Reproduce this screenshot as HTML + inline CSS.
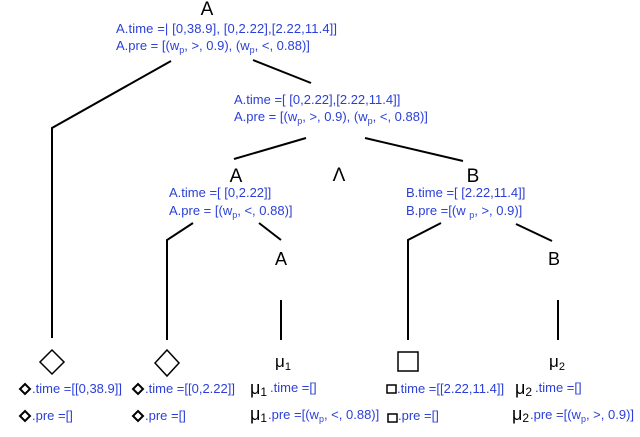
<!DOCTYPE html>
<html><head><meta charset="utf-8"><style>
html,body{margin:0;padding:0;background:#fff;}
svg{display:block;}
.b{fill:#2b3fd8;font-family:"Liberation Sans",sans-serif;font-size:13px;}
.k{fill:#000;font-family:"Liberation Sans",sans-serif;}
line,polyline{stroke:#000;stroke-width:2;fill:none;}
</style></head><body>
<svg width="640" height="437" viewBox="0 0 640 437" xmlns="http://www.w3.org/2000/svg">
<text class="k" x="207" y="15" font-size="19" text-anchor="middle">A</text>
<text class="b" x="116" y="33" textLength="221">A.time =| [0,38.9], [0,2.22],[2.22,11.4]]</text>
<text class="b" x="116" y="50">A.pre = [(w<tspan font-size="9" dy="3">p</tspan><tspan dy="-3">, &gt;, 0.9), (w</tspan><tspan font-size="9" dy="3">p</tspan><tspan dy="-3">, &lt;, 0.88)]</tspan></text>
<polyline points="171,61 52,128 52,338"/>
<line x1="253" y1="60" x2="311" y2="83"/>
<text class="b" x="234" y="104">A.time =[ [0,2.22],[2.22,11.4]]</text>
<text class="b" x="234" y="121">A.pre = [(w<tspan font-size="9" dy="3">p</tspan><tspan dy="-3">, &gt;, 0.9), (w</tspan><tspan font-size="9" dy="3">p</tspan><tspan dy="-3">, &lt;, 0.88)]</tspan></text>
<line x1="306" y1="138" x2="234" y2="159"/>
<line x1="365" y1="138" x2="463" y2="161"/>
<text class="k" x="236" y="182" font-size="19" text-anchor="middle">A</text>
<text class="k" x="339" y="181" font-size="19" text-anchor="middle">Λ</text>
<text class="k" x="473" y="182" font-size="19" text-anchor="middle">B</text>
<text class="b" x="169" y="197">A.time =[ [0,2.22]]</text>
<text class="b" x="169" y="215">A.pre = [(w<tspan font-size="9" dy="3">p</tspan><tspan dy="-3">, &lt;, 0.88)]</tspan></text>
<text class="b" x="406" y="197">B.time =[ [2.22,11.4]]</text>
<text class="b" x="406" y="215">B.pre =[(w <tspan font-size="9" dy="3">p</tspan><tspan dy="-3">, &gt;, 0.9)]</tspan></text>
<polyline points="193,223 167,240 167,340"/>
<line x1="259" y1="223" x2="281" y2="240"/>
<text class="k" x="281" y="265" font-size="18" text-anchor="middle">A</text>
<line x1="281" y1="300" x2="281" y2="340"/>
<polyline points="441,223 408,240 408,340"/>
<line x1="516" y1="224" x2="552" y2="241"/>
<text class="k" x="554" y="265" font-size="18" text-anchor="middle">B</text>
<line x1="558" y1="300" x2="558" y2="340"/>
<polygon points="52,350 64,362 52,374 40,362" fill="none" stroke="#000" stroke-width="1.5"/>
<polygon points="167,350 179,363 167,376 155,363" fill="none" stroke="#000" stroke-width="1.5"/>
<rect x="398" y="352" width="20" height="19" fill="none" stroke="#000" stroke-width="1.5"/>
<text class="k" x="283" y="367" font-size="17" text-anchor="middle">μ<tspan font-size="11" dy="3">1</tspan></text>
<text class="k" x="557" y="367" font-size="17" text-anchor="middle">μ<tspan font-size="11" dy="3">2</tspan></text>
<polygon points="25,384 30,389 25,394 20,389" fill="none" stroke="#000" stroke-width="2"/>
<text class="b" x="32" y="393">.time =[[0,38.9]]</text>
<polygon points="25,411 30,416 25,421 20,416" fill="none" stroke="#000" stroke-width="2"/>
<text class="b" x="32" y="420">.pre =[]</text>
<polygon points="138,384 143,389 138,394 133,389" fill="none" stroke="#000" stroke-width="2"/>
<text class="b" x="145" y="393">.time =[[0,2.22]]</text>
<polygon points="138,411 143,416 138,421 133,416" fill="none" stroke="#000" stroke-width="2"/>
<text class="b" x="145" y="420">.pre =[]</text>
<text class="k" x="250" y="394" font-size="18">μ<tspan font-size="12" dy="2">1</tspan></text>
<text class="b" x="270" y="392">.time =[]</text>
<text class="k" x="250" y="420" font-size="18">μ<tspan font-size="12" dy="2">1</tspan></text>
<text class="b" x="268" y="419">.pre =[(w<tspan font-size="9" dy="3">p</tspan><tspan dy="-3">, &lt;, 0.88)]</tspan></text>
<rect x="387" y="385" width="9" height="8" fill="none" stroke="#000" stroke-width="1.5"/>
<text class="b" x="397" y="393">.time =[[2.22,11.4]]</text>
<rect x="388" y="414" width="9" height="8" fill="none" stroke="#000" stroke-width="1.5"/>
<text class="b" x="398" y="420">.pre =[]</text>
<text class="k" x="515" y="394" font-size="18">μ<tspan font-size="12" dy="2">2</tspan></text>
<text class="b" x="535" y="392">.time =[]</text>
<text class="k" x="512" y="420" font-size="18">μ<tspan font-size="12" dy="2">2</tspan></text>
<text class="b" x="530" y="419">.pre =[(w<tspan font-size="9" dy="3">p</tspan><tspan dy="-3">, &gt;, 0.9)]</tspan></text>
</svg>
</body></html>
